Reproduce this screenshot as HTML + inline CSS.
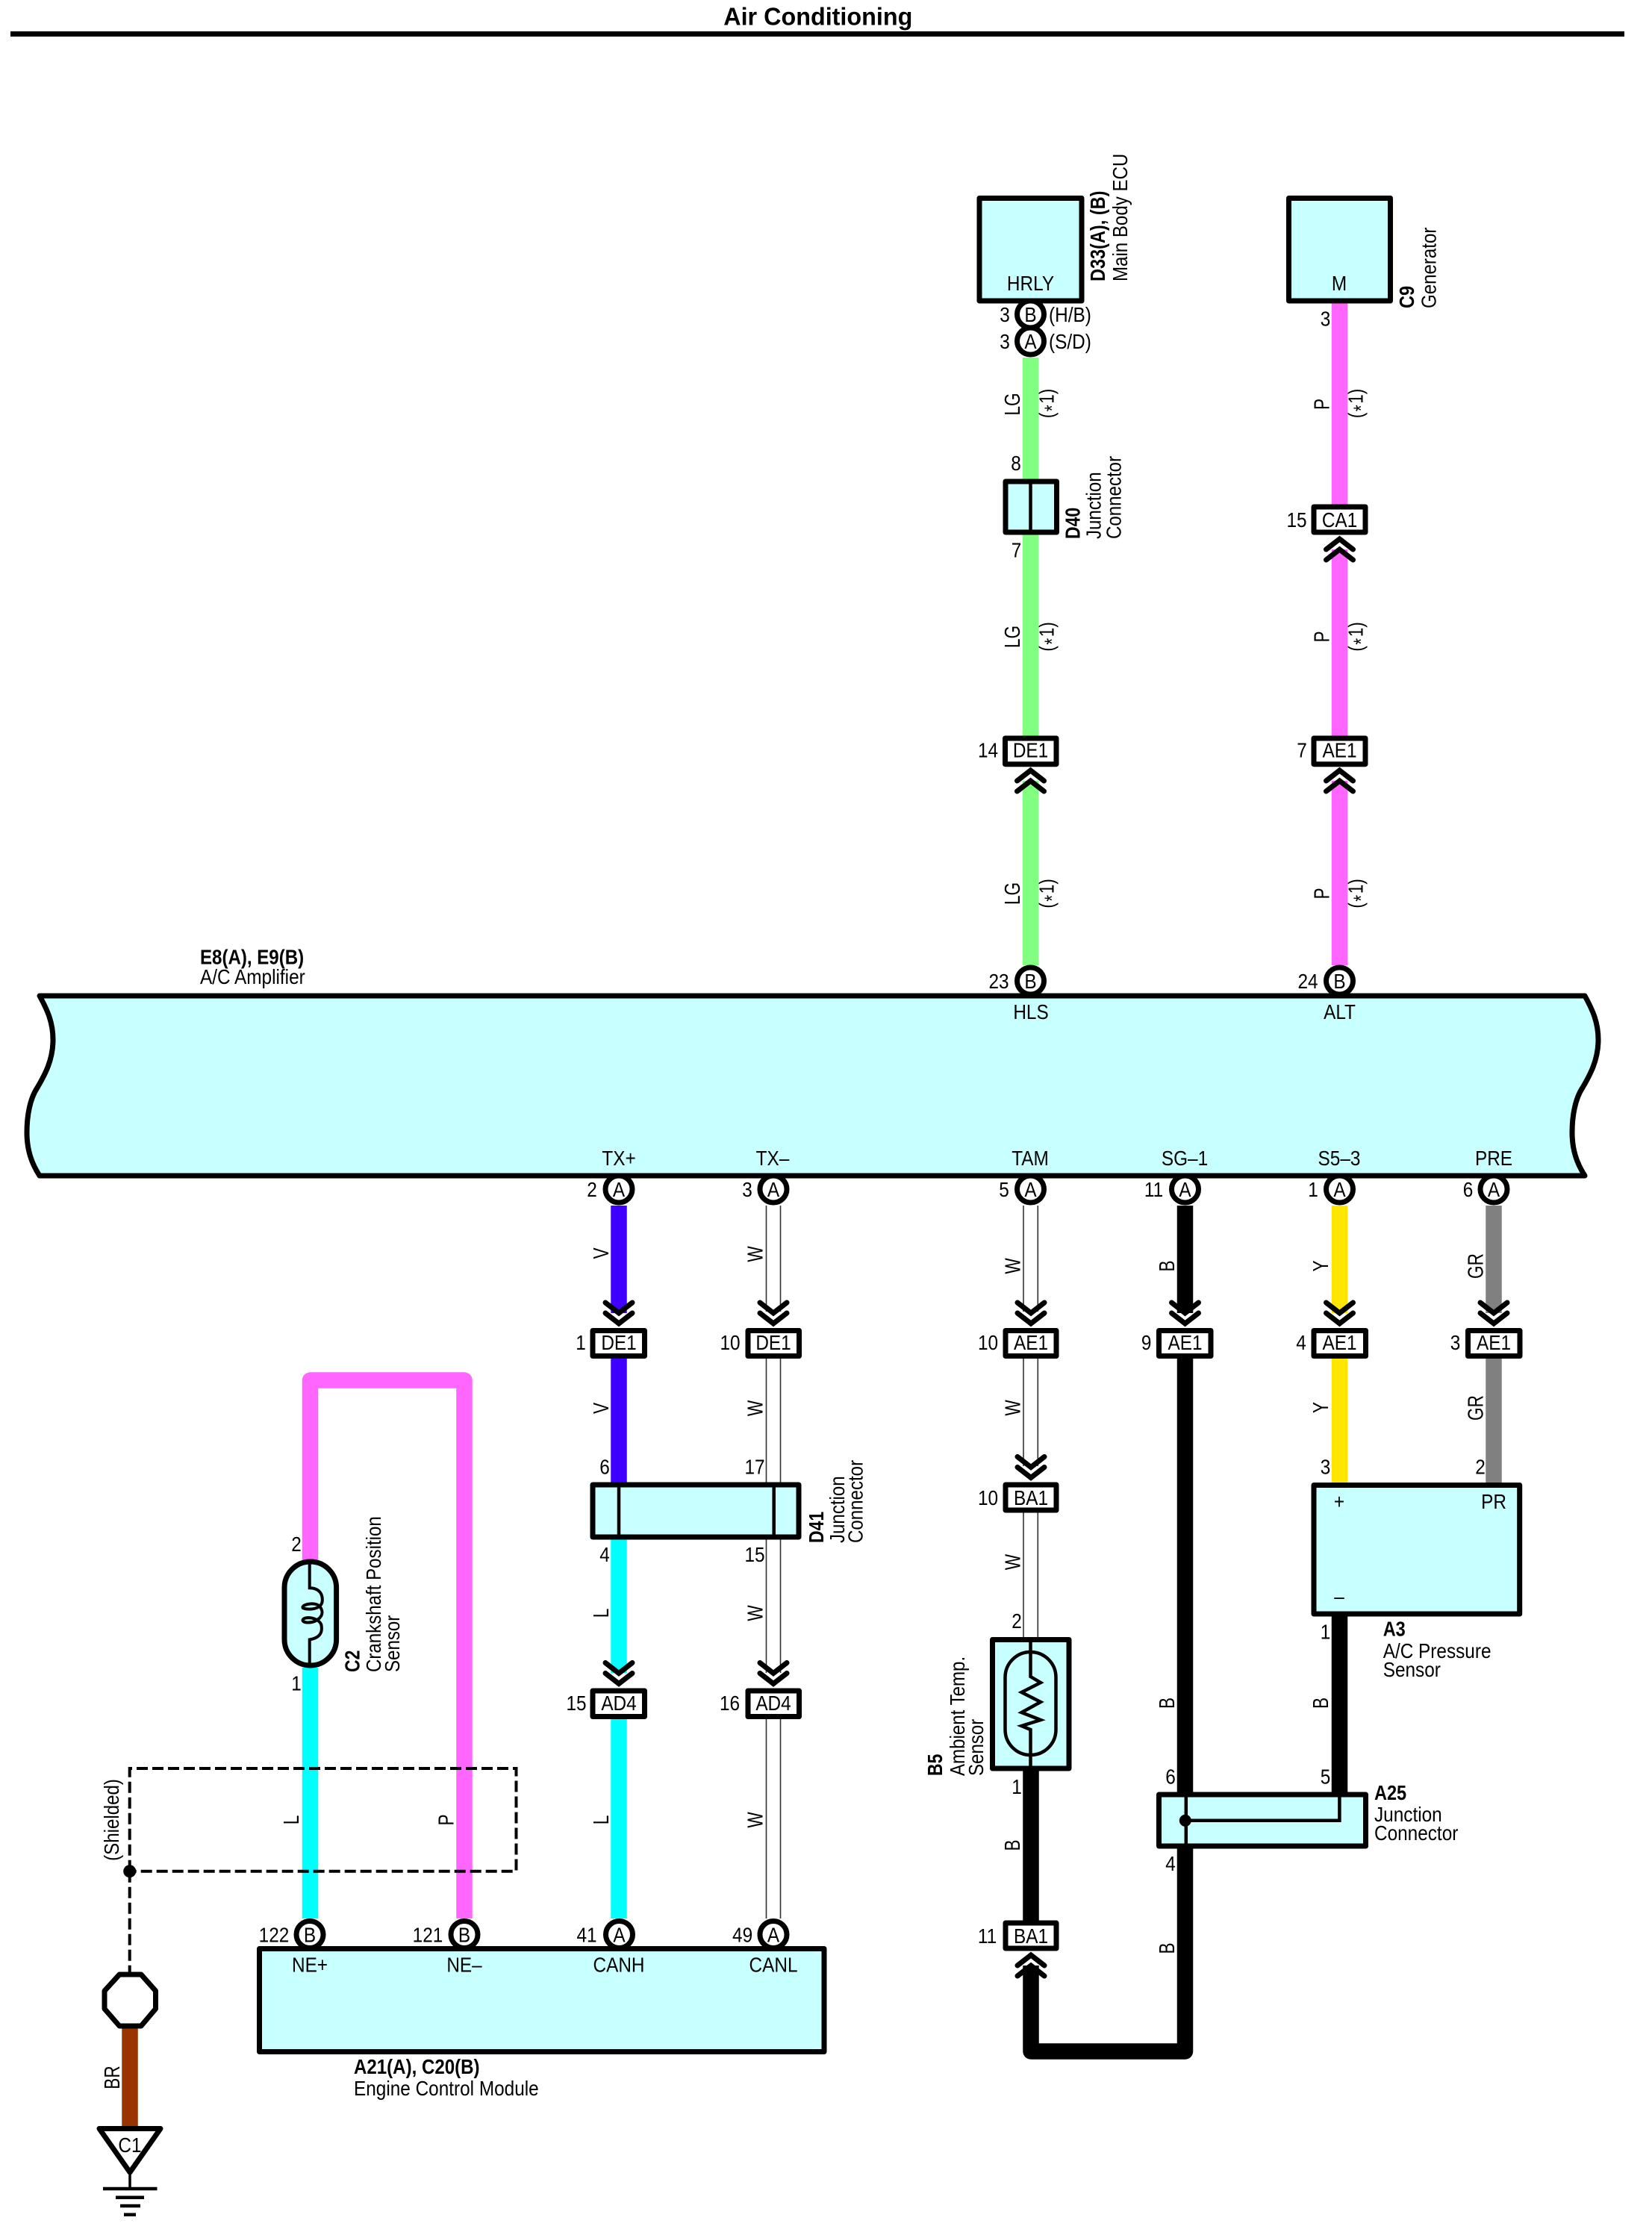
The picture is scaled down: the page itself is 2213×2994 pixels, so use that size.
<!DOCTYPE html>
<html lang="en"><head><meta charset="utf-8"><title>Air Conditioning</title>
<style>
html,body{margin:0;padding:0;background:#fff}
svg{display:block;font-family:"Liberation Sans",sans-serif;font-size:28px;fill:#000}
.m{text-anchor:middle}
.b{font-weight:bold}
.r{font-size:29px}
.w{fill:none;stroke-width:21.5;stroke-linejoin:round}
.t{fill:none;stroke:#333;stroke-width:1.6}
.ch{fill:none;stroke:#000;stroke-width:7;stroke-linecap:round;stroke-linejoin:miter}
.p{fill:#fff;stroke:#000;stroke-width:7}
.bx{fill:#c8ffff;stroke:#000;stroke-width:7;stroke-linejoin:round}
.cn{fill:#fff;stroke:#000;stroke-width:7;stroke-linejoin:round}
.l{fill:none;stroke:#000;stroke-width:4.5}
.s{fill:none;stroke:#000;stroke-width:4;stroke-dasharray:15 6}
</style></head><body>
<svg xmlns="http://www.w3.org/2000/svg" width="2213" height="2994" viewBox="0 0 2213 2994">
<rect width="2213" height="2994" fill="#fff"/>

<!-- title -->
<text class="m b" style="font-size:33px" transform="matrix(.98 0 0 1 1095.8 33.5)">Air Conditioning</text>
<rect x="14" y="42" width="2162" height="7"/>

<!-- colored wires -->
<path class="w" stroke="#80ff80" d="M1380.5 479V642M1380.5 716V986M1380.5 1046V1293"/>
<path class="w" stroke="#ff66ff" d="M1794.5 406V676M1794.5 736V986M1794.5 1046V1293"/>
<path class="w" stroke="#4000ff" d="M829 1615V1759M829 1820V1986"/>
<path class="w" stroke="#00ffff" d="M829 2062V2241M829 2302V2570"/>
<path class="w" stroke="#ffe600" d="M1794.5 1615V1759M1794.5 1820V1986"/>
<path class="w" stroke="#808080" d="M2001 1615V1759M2001 1820V1986"/>
<path class="w" stroke="#000" d="M1587.5 1615V1759M1587.5 1820V2401M1794.5 2165V2401"/>
<path class="w" stroke="#000" d="M1587.5 2476V2748H1381V2633M1381 2370V2573"/>
<path class="w" stroke="#ff66ff" d="M415.5 2092V1849H622V2570"/>
<path class="w" stroke="#00ffff" d="M415.5 2234V2570"/>
<path class="w" stroke="#993300" d="M174 2717V2851"/>

<!-- white wires -->
<path class="t" d="M1026.5 1615V1757M1045.5 1615V1757M1026.5 1820V1986M1045.5 1820V1986M1026.5 2062V2241M1045.5 2062V2241M1026.5 2302V2570M1045.5 2302V2570"/>
<path class="t" d="M1371 1615V1757M1390.3 1615V1757M1371 1820V1964M1390.3 1820V1964M1371 2026V2194M1390.3 2026V2194"/>

<!-- chevrons up -->
<path class="ch" d="M1362.5 1046L1380.5 1032L1398.5 1046M1362.5 1060L1380.5 1046L1398.5 1060"/>
<path class="ch" d="M1776.5 1046L1794.5 1032L1812.5 1046M1776.5 1060L1794.5 1046L1812.5 1060"/>
<path class="ch" d="M1776.5 736L1794.5 722L1812.5 736M1776.5 750L1794.5 736L1812.5 750"/>
<path class="ch" d="M1363 2633L1381 2619L1399 2633M1363 2647L1381 2633L1399 2647"/>
<!-- chevrons down -->
<path class="ch" d="M811 1745L829 1759L847 1745M811 1759L829 1773L847 1759"/>
<path class="ch" d="M1018 1745L1036 1759L1054 1745M1018 1759L1036 1773L1054 1759"/>
<path class="ch" d="M1363 1745L1381 1759L1399 1745M1363 1759L1381 1773L1399 1759"/>
<path class="ch" d="M1569.5 1745L1587.5 1759L1605.5 1745M1569.5 1759L1587.5 1773L1605.5 1759"/>
<path class="ch" d="M1776.5 1745L1794.5 1759L1812.5 1745M1776.5 1759L1794.5 1773L1812.5 1759"/>
<path class="ch" d="M1983 1745L2001 1759L2019 1745M1983 1759L2001 1773L2019 1759"/>
<path class="ch" d="M1363 1951.5L1381 1965.5L1399 1951.5M1363 1965.5L1381 1979.5L1399 1965.5"/>
<path class="ch" d="M811 2227.5L829 2241.5L847 2227.5M811 2241.5L829 2255.5L847 2241.5"/>
<path class="ch" d="M1018 2227.5L1036 2241.5L1054 2227.5M1018 2241.5L1036 2255.5L1054 2241.5"/>

<!-- pins -->
<circle class="p" cx="1380.5" cy="421" r="18"/>
<circle class="p" cx="1380.5" cy="457" r="18"/>
<circle class="p" cx="1380.5" cy="1314" r="18"/>
<circle class="p" cx="1794.5" cy="1314" r="18"/>
<circle class="p" cx="829" cy="1593" r="18"/>
<circle class="p" cx="1036" cy="1593" r="18"/>
<circle class="p" cx="1380.5" cy="1593" r="18"/>
<circle class="p" cx="1587.5" cy="1593" r="18"/>
<circle class="p" cx="1794.5" cy="1593" r="18"/>
<circle class="p" cx="2001" cy="1593" r="18"/>
<circle class="p" cx="415" cy="2591.5" r="18"/>
<circle class="p" cx="622" cy="2591.5" r="18"/>
<circle class="p" cx="829.5" cy="2591.5" r="18"/>
<circle class="p" cx="1036" cy="2591.5" r="18"/>

<!-- amplifier -->
<path class="bx" d="M53 1334C64 1354 71 1370 71 1393C71 1420 60 1440 50 1457C40 1472 36 1495 36 1517C36 1540 42 1558 53 1575H2123C2112 1558 2106 1540 2106 1517C2106 1495 2110 1472 2120 1457C2130 1440 2141 1420 2141 1393C2141 1370 2134 1354 2123 1334Z"/>

<!-- boxes -->
<rect class="bx" x="1312" y="265.5" width="137" height="137.5"/>
<rect class="bx" x="1726.5" y="265.5" width="136" height="137.5"/>
<rect class="bx" x="1347" y="645" width="68.5" height="68"/>
<path class="l" d="M1380.5 645V713"/>
<rect class="bx" x="794" y="1989" width="276" height="70"/>
<path class="l" d="M829 1989V2059M1036.7 1989V2059"/>
<rect class="bx" x="1760" y="1989.5" width="275.7" height="172.5"/>
<rect class="bx" x="1552.5" y="2404" width="277" height="69"/>
<path class="l" d="M1588.8 2404V2473M1794.4 2404V2438.8H1588"/>
<circle cx="1587.8" cy="2438.8" r="8"/>
<rect class="bx" x="347.5" y="2610.5" width="756.5" height="138"/>

<!-- B5 thermistor -->
<rect class="bx" x="1329.5" y="2196.5" width="102.5" height="172.5"/>
<rect x="1346.5" y="2213" width="68" height="138" rx="34" fill="none" stroke="#000" stroke-width="4.5"/>
<path class="l" d="M1380.5 2196V2246L1394 2254L1368.5 2267L1394 2280L1368.5 2294L1394 2304L1368.5 2312L1380.5 2317V2369"/>

<!-- C2 sensor -->
<rect class="bx" x="381" y="2092" width="69.6" height="139" rx="34.8"/>
<g transform="translate(100 2000) scale(.4464)"><path fill="none" stroke="#000" stroke-width="9" d="M705 205V285C735 285 745 305 743 325C741 350 700 352 685 345C678 335 722 325 735 340C745 352 745 365 735 375C715 395 680 390 685 380C690 370 730 372 740 395C745 420 735 435 705 440V520"/></g>

<!-- inline connectors -->
<rect class="cn" x="1760" y="679" width="69" height="34"/>
<rect class="cn" x="1346.5" y="989" width="68.5" height="34.7"/>
<rect class="cn" x="1760" y="989" width="69" height="34.7"/>
<rect class="cn" x="794" y="1782.5" width="69.5" height="34"/>
<rect class="cn" x="1002" y="1782.5" width="68.5" height="34"/>
<rect class="cn" x="1347" y="1782.5" width="68" height="34"/>
<rect class="cn" x="1552.5" y="1782.5" width="69.5" height="34"/>
<rect class="cn" x="1760" y="1782.5" width="69.5" height="34"/>
<rect class="cn" x="1966.5" y="1782.5" width="69.5" height="34"/>
<rect class="cn" x="1347" y="1989" width="68" height="34"/>
<rect class="cn" x="794" y="2265" width="69.5" height="34.5"/>
<rect class="cn" x="1002" y="2265" width="68.5" height="34.5"/>
<rect class="cn" x="1347" y="2576" width="68" height="34"/>

<!-- shield & ground -->
<path class="s" d="M173.7 2506.7V2369H691.5V2506.7H173.7"/>
<path class="s" d="M173.7 2506.7V2645"/>
<circle cx="173.7" cy="2506.7" r="8.5"/>
<path d="M160 2645H189L208.5 2667V2691L189 2714H160L140 2691V2667Z" fill="#fff" stroke="#000" stroke-width="7" stroke-linejoin="round"/>
<path d="M133 2851.5H215L174 2910Z" fill="#fff" stroke="#000" stroke-width="7" stroke-linejoin="round"/>
<path d="M174 2912V2932" stroke="#000" stroke-width="3.5"/>
<path d="M138 2932H210.5M155 2943.7H193M161 2955H188M166 2966.7H182" stroke="#000" stroke-width="4.5" fill="none"/>

<!-- pin letters -->
<text class="m" transform="matrix(.87 0 0 1 1380.5 431)">B</text>
<text class="m" transform="matrix(.87 0 0 1 1380.5 467)">A</text>
<text class="m" transform="matrix(.87 0 0 1 1380.5 1324)">B</text>
<text class="m" transform="matrix(.87 0 0 1 1794.5 1324)">B</text>
<text class="m" transform="matrix(.87 0 0 1 829 1603)">A</text>
<text class="m" transform="matrix(.87 0 0 1 1036 1603)">A</text>
<text class="m" transform="matrix(.87 0 0 1 1380.5 1603)">A</text>
<text class="m" transform="matrix(.87 0 0 1 1587.5 1603)">A</text>
<text class="m" transform="matrix(.87 0 0 1 1794.5 1603)">A</text>
<text class="m" transform="matrix(.87 0 0 1 2001 1603)">A</text>
<text class="m" transform="matrix(.87 0 0 1 415 2601.5)">B</text>
<text class="m" transform="matrix(.87 0 0 1 622 2601.5)">B</text>
<text class="m" transform="matrix(.87 0 0 1 829.5 2601.5)">A</text>
<text class="m" transform="matrix(.87 0 0 1 1036 2601.5)">A</text>

<!-- pin numbers -->
<text class="m" transform="matrix(.87 0 0 1 1346 431)">3</text>
<text class="m" transform="matrix(.87 0 0 1 1346 467)">3</text>
<text transform="matrix(.87 0 0 1 1405 431)">(H/B)</text>
<text transform="matrix(.87 0 0 1 1405 467)">(S/D)</text>
<text class="m" transform="matrix(.87 0 0 1 1775.5 436.6)">3</text>
<text class="m" transform="matrix(.87 0 0 1 1361 630)">8</text>
<text class="m" transform="matrix(.87 0 0 1 1361.5 746.6)">7</text>
<text class="m" transform="matrix(.87 0 0 1 1737 706)">15</text>
<text class="m" transform="matrix(.87 0 0 1 1323.5 1014.5)">14</text>
<text class="m" transform="matrix(.87 0 0 1 1744 1014.5)">7</text>
<text class="m" transform="matrix(.87 0 0 1 1338 1324)">23</text>
<text class="m" transform="matrix(.87 0 0 1 1752 1324)">24</text>
<text class="m" transform="matrix(.87 0 0 1 793 1603)">2</text>
<text class="m" transform="matrix(.87 0 0 1 1001 1603)">3</text>
<text class="m" transform="matrix(.87 0 0 1 1345 1603)">5</text>
<text class="m" transform="matrix(.87 0 0 1 1545.5 1603)">11</text>
<text class="m" transform="matrix(.87 0 0 1 1759 1603)">1</text>
<text class="m" transform="matrix(.87 0 0 1 1966.5 1603)">6</text>
<text class="m" transform="matrix(.87 0 0 1 778 1808)">1</text>
<text class="m" transform="matrix(.87 0 0 1 978 1808)">10</text>
<text class="m" transform="matrix(.87 0 0 1 1323.5 1808)">10</text>
<text class="m" transform="matrix(.87 0 0 1 1535.7 1808)">9</text>
<text class="m" transform="matrix(.87 0 0 1 1743 1808)">4</text>
<text class="m" transform="matrix(.87 0 0 1 1949.5 1808)">3</text>
<text class="m" transform="matrix(.87 0 0 1 1323.5 2016)">10</text>
<text class="m" transform="matrix(.87 0 0 1 810 1974.5)">6</text>
<text class="m" transform="matrix(.87 0 0 1 1011 1974.5)">17</text>
<text class="m" transform="matrix(.87 0 0 1 810 2092)">4</text>
<text class="m" transform="matrix(.87 0 0 1 1011 2092)">15</text>
<text class="m" transform="matrix(.87 0 0 1 1775.5 1974.7)">3</text>
<text class="m" transform="matrix(.87 0 0 1 1983 1974.7)">2</text>
<text class="m" transform="matrix(.87 0 0 1 1775.5 2195.6)">1</text>
<text class="m" transform="matrix(.87 0 0 1 1362 2181)">2</text>
<text class="m" transform="matrix(.87 0 0 1 1362 2403)">1</text>
<text class="m" transform="matrix(.87 0 0 1 772 2291)">15</text>
<text class="m" transform="matrix(.87 0 0 1 977.5 2291)">16</text>
<text class="m" transform="matrix(.87 0 0 1 1568 2389.5)">6</text>
<text class="m" transform="matrix(.87 0 0 1 1775.5 2389.5)">5</text>
<text class="m" transform="matrix(.87 0 0 1 1568 2506)">4</text>
<text class="m" transform="matrix(.87 0 0 1 1322.5 2603)">11</text>
<text class="m" transform="matrix(.87 0 0 1 397 2078)">2</text>
<text class="m" transform="matrix(.87 0 0 1 397 2264.5)">1</text>
<text class="m" transform="matrix(.87 0 0 1 367 2601.5)">122</text>
<text class="m" transform="matrix(.87 0 0 1 573 2601.5)">121</text>
<text class="m" transform="matrix(.87 0 0 1 786 2601.5)">41</text>
<text class="m" transform="matrix(.87 0 0 1 994.6 2601.5)">49</text>

<!-- connector text -->
<text class="m" transform="matrix(.87 0 0 1 1380.5 389)">HRLY</text>
<text class="m" transform="matrix(.87 0 0 1 1794 389)">M</text>
<text class="m" transform="matrix(.87 0 0 1 1794.5 706)">CA1</text>
<text class="m" transform="matrix(.87 0 0 1 1380.5 1014.5)">DE1</text>
<text class="m" transform="matrix(.87 0 0 1 1794.5 1014.5)">AE1</text>
<text class="m" transform="matrix(.87 0 0 1 829 1808)">DE1</text>
<text class="m" transform="matrix(.87 0 0 1 1036 1808)">DE1</text>
<text class="m" transform="matrix(.87 0 0 1 1381 1808)">AE1</text>
<text class="m" transform="matrix(.87 0 0 1 1587.5 1808)">AE1</text>
<text class="m" transform="matrix(.87 0 0 1 1794.5 1808)">AE1</text>
<text class="m" transform="matrix(.87 0 0 1 2001 1808)">AE1</text>
<text class="m" transform="matrix(.87 0 0 1 1381 2016)">BA1</text>
<text class="m" transform="matrix(.87 0 0 1 829 2291)">AD4</text>
<text class="m" transform="matrix(.87 0 0 1 1036 2291)">AD4</text>
<text class="m" transform="matrix(.87 0 0 1 1381 2603)">BA1</text>
<text class="m" transform="matrix(.87 0 0 1 174 2883)">C1</text>

<!-- terminal names -->
<text class="m" transform="matrix(.87 0 0 1 1381 1365)">HLS</text>
<text class="m" transform="matrix(.87 0 0 1 1794.5 1365)">ALT</text>
<text class="m" transform="matrix(.87 0 0 1 829 1561)">TX+</text>
<text class="m" transform="matrix(.87 0 0 1 1035 1561)">TX–</text>
<text class="m" transform="matrix(.87 0 0 1 1380 1561)">TAM</text>
<text class="m" transform="matrix(.87 0 0 1 1587 1561)">SG–1</text>
<text class="m" transform="matrix(.87 0 0 1 1794 1561)">S5–3</text>
<text class="m" transform="matrix(.87 0 0 1 2001 1561)">PRE</text>
<text class="m" transform="matrix(.87 0 0 1 1794 2021)">+</text>
<text class="m" transform="matrix(.87 0 0 1 2001 2021)">PR</text>
<text class="m" transform="matrix(.87 0 0 1 1794 2148)">–</text>
<text class="m" transform="matrix(.87 0 0 1 415 2641.7)">NE+</text>
<text class="m" transform="matrix(.87 0 0 1 622 2641.7)">NE–</text>
<text class="m" transform="matrix(.87 0 0 1 829 2641.7)">CANH</text>
<text class="m" transform="matrix(.87 0 0 1 1036 2641.7)">CANL</text>

<!-- wire color labels (rotated) -->
<text class="m r" transform="matrix(0 -.78 1 0 1366 541.5)">LG</text>
<text class="m r" transform="matrix(0 -.78 1 0 1366 853)">LG</text>
<text class="m r" transform="matrix(0 -.78 1 0 1366 1197)">LG</text>
<text class="m" transform="matrix(0 -.8 1 0 1411.5 540.5)">(<tspan dx="2" dy="7">*</tspan><tspan dx="2" dy="-7">1)</tspan></text>
<text class="m" transform="matrix(0 -.8 1 0 1411.5 853)">(<tspan dx="2" dy="7">*</tspan><tspan dx="2" dy="-7">1)</tspan></text>
<text class="m" transform="matrix(0 -.8 1 0 1411.5 1197)">(<tspan dx="2" dy="7">*</tspan><tspan dx="2" dy="-7">1)</tspan></text>
<text class="m r" transform="matrix(0 -.78 1 0 1780.5 541.5)">P</text>
<text class="m r" transform="matrix(0 -.78 1 0 1780.5 853)">P</text>
<text class="m r" transform="matrix(0 -.78 1 0 1780.5 1197)">P</text>
<text class="m" transform="matrix(0 -.8 1 0 1825.5 540.5)">(<tspan dx="2" dy="7">*</tspan><tspan dx="2" dy="-7">1)</tspan></text>
<text class="m" transform="matrix(0 -.8 1 0 1825.5 853)">(<tspan dx="2" dy="7">*</tspan><tspan dx="2" dy="-7">1)</tspan></text>
<text class="m" transform="matrix(0 -.8 1 0 1825.5 1197)">(<tspan dx="2" dy="7">*</tspan><tspan dx="2" dy="-7">1)</tspan></text>
<text class="m r" transform="matrix(0 -.78 1 0 815 1679)">V</text>
<text class="m r" transform="matrix(0 -.78 1 0 815 1886.5)">V</text>
<text class="m r" transform="matrix(0 -.78 1 0 815 2161)">L</text>
<text class="m r" transform="matrix(0 -.78 1 0 815 2438)">L</text>
<text class="m r" transform="matrix(0 -.78 1 0 1021.5 1680)">W</text>
<text class="m r" transform="matrix(0 -.78 1 0 1021.5 1886.5)">W</text>
<text class="m r" transform="matrix(0 -.78 1 0 1021.5 2161)">W</text>
<text class="m r" transform="matrix(0 -.78 1 0 1021.5 2438)">W</text>
<text class="m r" transform="matrix(0 -.78 1 0 1366.5 1696)">W</text>
<text class="m r" transform="matrix(0 -.78 1 0 1366.5 1886)">W</text>
<text class="m r" transform="matrix(0 -.78 1 0 1366.5 2092.6)">W</text>
<text class="m r" transform="matrix(0 -.78 1 0 1573 1696)">B</text>
<text class="m r" transform="matrix(0 -.78 1 0 1573 2281.5)">B</text>
<text class="m r" transform="matrix(0 -.78 1 0 1573 2610)">B</text>
<text class="m r" transform="matrix(0 -.78 1 0 1366 2472)">B</text>
<text class="m r" transform="matrix(0 -.78 1 0 1779 1696)">Y</text>
<text class="m r" transform="matrix(0 -.78 1 0 1779 1885.6)">Y</text>
<text class="m r" transform="matrix(0 -.78 1 0 1779 2281.5)">B</text>
<text class="m r" transform="matrix(0 -.78 1 0 1986.6 1696)">GR</text>
<text class="m r" transform="matrix(0 -.78 1 0 1986.6 1886)">GR</text>
<text class="m r" transform="matrix(0 -.78 1 0 400 2438)">L</text>
<text class="m r" transform="matrix(0 -.78 1 0 607.6 2438)">P</text>
<text class="m r" transform="matrix(0 -.78 1 0 160 2783)">BR</text>
<text class="m" transform="matrix(0 -.86 1 0 159 2438)">(Shielded)</text>

<!-- component labels rotated -->
<text class="b" transform="matrix(0 -.84 1 0 1480 377)">D33(A), (B)</text>
<text transform="matrix(0 -.86 1 0 1510 377)">Main Body ECU</text>
<text class="b" transform="matrix(0 -.84 1 0 1894 413)">C9</text>
<text transform="matrix(0 -.86 1 0 1923.5 413)">Generator</text>
<text class="b" transform="matrix(0 -.82 1 0 1446.4 722)">D40</text>
<text transform="matrix(0 -.86 1 0 1474.5 722)">Junction</text>
<text transform="matrix(0 -.86 1 0 1501.5 722)">Connector</text>
<text class="b" transform="matrix(0 -.82 1 0 1103 2067)">D41</text>
<text transform="matrix(0 -.86 1 0 1131 2067)">Junction</text>
<text transform="matrix(0 -.86 1 0 1155.6 2067)">Connector</text>
<text class="b" transform="matrix(0 -.82 1 0 481.7 2240)">C2</text>
<text transform="matrix(0 -.86 1 0 510 2240)">Crankshaft Position</text>
<text transform="matrix(0 -.86 1 0 535 2240)">Sensor</text>
<text class="b" transform="matrix(0 -.82 1 0 1262 2379)">B5</text>
<text transform="matrix(0 -.86 1 0 1292 2379)">Ambient Temp.</text>
<text transform="matrix(0 -.86 1 0 1317 2379)">Sensor</text>

<!-- component labels horizontal -->
<text class="b" transform="matrix(.86 0 0 1 268 1291.7)">E8(A), E9(B)</text>
<text transform="matrix(.87 0 0 1 268 1318)">A/C Amplifier</text>
<text class="b" transform="matrix(.84 0 0 1 1852.7 2191.7)">A3</text>
<text transform="matrix(.87 0 0 1 1852.7 2221)">A/C Pressure</text>
<text transform="matrix(.87 0 0 1 1852.7 2246)">Sensor</text>
<text class="b" transform="matrix(.84 0 0 1 1841 2411)">A25</text>
<text transform="matrix(.87 0 0 1 1841 2440)">Junction</text>
<text transform="matrix(.87 0 0 1 1841 2465)">Connector</text>
<text class="b" transform="matrix(.86 0 0 1 474 2778)">A21(A), C20(B)</text>
<text transform="matrix(.87 0 0 1 474 2807)">Engine Control Module</text>
</svg>
</body></html>
